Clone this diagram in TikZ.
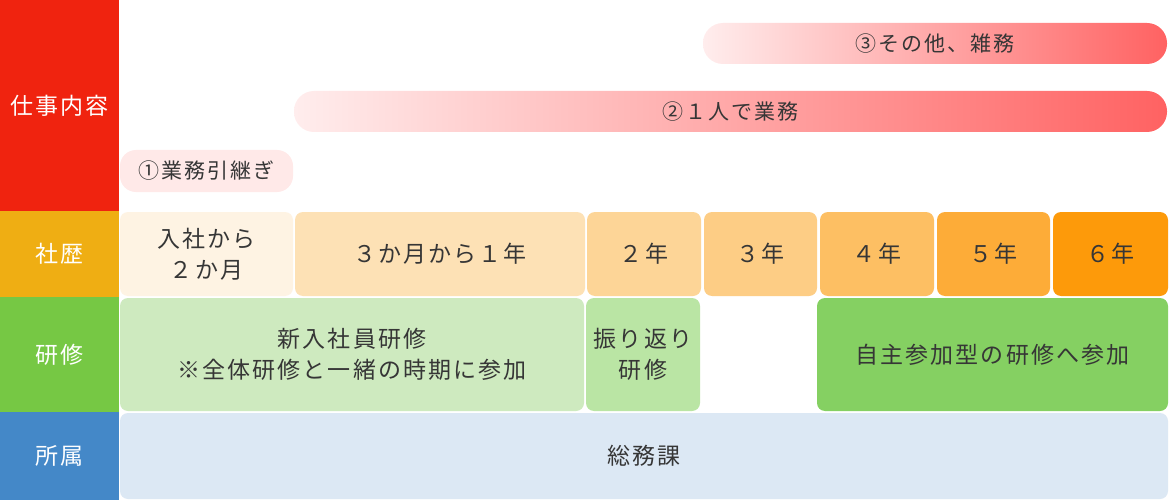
\documentclass[tikz,border=0pt]{standalone}
\usepackage{fontspec}
\newfontfamily\jp[LetterSpace=9]{Noto Sans CJK JP}
\newfontfamily\jpw[LetterSpace=10]{Noto Sans CJK JP}
\definecolor{cred}{HTML}{F0230F}
\definecolor{corg}{HTML}{EFAE13}
\definecolor{cgrn}{HTML}{76C844}
\definecolor{cblu}{HTML}{4488C8}
\definecolor{txt}{HTML}{363636}
\definecolor{pkL}{HTML}{FFEDED}
\definecolor{pkR}{HTML}{FF6262}
\definecolor{pk1}{HTML}{FFE9E8}
\definecolor{y1}{HTML}{FEF3E3}
\definecolor{y2}{HTML}{FDE1B5}
\definecolor{y3}{HTML}{FDD597}
\definecolor{y4}{HTML}{FDCD85}
\definecolor{y5}{HTML}{FDBF63}
\definecolor{y6}{HTML}{FDAC38}
\definecolor{y7}{HTML}{FD9A0A}
\definecolor{g1}{HTML}{CEEABF}
\definecolor{g2}{HTML}{BAE5A4}
\definecolor{g3}{HTML}{85D062}
\definecolor{b1}{HTML}{DCE8F4}
\tikzset{
  sz/.style 2 args={minimum width=#1pt, minimum height=#2pt},
  lab/.style={fill=#1, inner sep=0pt, outer sep=0pt, text=white, align=center,
    font=\jpw\fontsize{23}{28}\selectfont},
  cell/.style={fill=#1, rounded corners=8pt, inner sep=0pt, outer sep=0pt, text=txt,
    align=center, font=\jp\fontsize{23}{31}\selectfont},
  bar/.style={rounded corners=20pt, inner sep=0pt, outer sep=0pt, text=txt,
    align=center, font=\jp\fontsize{21}{26}\selectfont},
}
\begin{document}
\begin{tikzpicture}[x=1pt,y=-1pt]
\useasboundingbox[fill=white] (0,0) rectangle (1170,500);
% left column
\node[lab=cred, sz={119}{211}] (l1) at (59.5,105.5) {仕事内容};
\node[lab=corg, sz={119}{86}] (l2) at (59.5,254) {社歴};
\node[lab=cgrn, sz={119}{115}] (l3) at (59.5,354.5) {研修};
\node[lab=cblu, sz={119}{88}] (l4) at (59.5,456) {所属};
% work bars
\node[bar, left color=pkL, right color=pkR, sz={464}{41}] (w3) at (935,43.5) {③その他、雑務};
\node[bar, left color=pkL, right color=pkR, sz={873}{41}] (w2) at (730.5,111.5) {②１人で業務};
\node[bar, fill=pk1, rounded corners=16pt, sz={173}{42}] (w1) at (206.5,171) {①業務引継ぎ};
% career row
\node[cell=y1, sz={173}{84}] (c1) at (206.5,254) {入社から\\２か月};
\node[cell=y2, sz={290}{84}] (c2) at (440,254) {３か月から１年};
\node[cell=y3, sz={114}{84}] (c3) at (644,254) {２年};
\node[cell=y4, sz={113}{84}] (c4) at (760.5,254) {３年};
\node[cell=y5, sz={114}{84}] (c5) at (877,254) {４年};
\node[cell=y6, sz={113}{84}] (c6) at (993.5,254) {５年};
\node[cell=y7, sz={115}{84}] (c7) at (1110.5,254) {６年};
% training row
\node[cell=g1, sz={464}{113}] (t1) at (352,354.5) {新入社員研修\\※全体研修と一緒の時期に参加};
\node[cell=g2, sz={114}{113}] (t2) at (643,354.5) {振り返り\\研修};
\node[cell=g3, sz={351}{113}] (t3) at (992.5,354.5) {自主参加型の研修へ参加};
% affiliation
\node[cell=b1, sz={1048}{86}] (a1) at (644,456) {総務課};
\end{tikzpicture}
\end{document}
